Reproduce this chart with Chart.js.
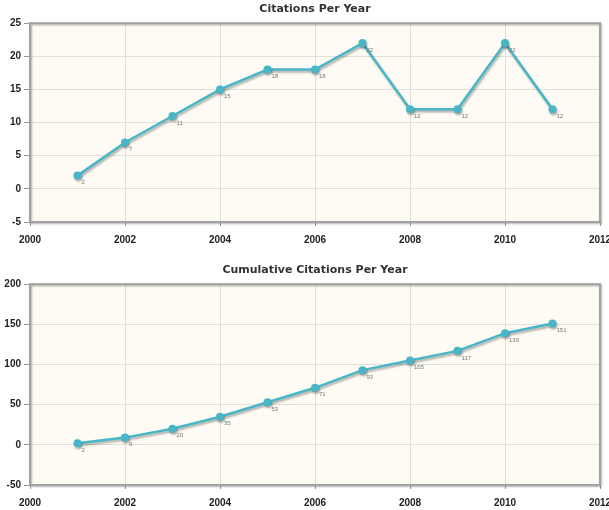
<!DOCTYPE html>
<html>
<head>
<meta charset="utf-8">
<script src="https://cdn.jsdelivr.net/npm/chart.js@4"></script>
<style>
  body{margin:0;background:#fff;overflow:hidden;}
  .box{position:absolute;left:0;width:609px;}
</style>
</head>
<body>
<div class="box" style="top:0;height:250px"><canvas id="perYear"></canvas></div>
<div class="box" style="top:255px;height:255px"><canvas id="cumulative"></canvas></div>
<script>
// chart data
const years = [2001, 2002, 2003, 2004, 2005, 2006, 2007, 2008, 2009, 2010, 2011];
const citations = [2, 7, 11, 15, 18, 18, 22, 12, 12, 22, 12];
const cumulative = [2, 9, 20, 35, 53, 71, 93, 105, 117, 139, 151];

// axis ranges
const xRange = [2000, 2012, 2];
const perYearRange = [-5, 25, 5];
const cumulativeRange = [-50, 200, 50];

const lineColor = '#48b6c7';
const tickFont = {family: 'Liberation Sans', size: 10, weight: 'bold'};

// cream plot background, grey framed border
const plotFrame = {
  id: 'plotFrame',
  beforeDraw(chart) {
    const a = chart.chartArea, ctx = chart.ctx;
    ctx.save();
    ctx.fillStyle = '#fdfbf3';
    ctx.fillRect(a.left, a.top, a.right - a.left, a.bottom - a.top);
    ctx.restore();
  },
  afterDraw(chart) {
    const a = chart.chartArea, ctx = chart.ctx;
    ctx.save();
    ctx.shadowColor = 'rgba(0,0,0,0.3)';
    ctx.shadowOffsetX = 1;
    ctx.shadowOffsetY = 1;
    ctx.shadowBlur = 2;
    ctx.strokeStyle = '#a2a2a2';
    ctx.lineWidth = 2;
    ctx.strokeRect(a.left, a.top, a.right - a.left, a.bottom - a.top);
    ctx.restore();
  }
};

// soft shadow under the line
const lineShadow = {
  id: 'lineShadow',
  beforeDatasetsDraw(chart) {
    const ctx = chart.ctx;
    ctx.save();
    ctx.shadowColor = 'rgba(0,0,0,0.3)';
    ctx.shadowOffsetX = 1;
    ctx.shadowOffsetY = 2;
    ctx.shadowBlur = 2;
  },
  afterDatasetsDraw(chart) {
    chart.ctx.restore();
  }
};

// small value labels next to each point
const valueLabels = {
  id: 'valueLabels',
  afterDatasetsDraw(chart) {
    const ctx = chart.ctx;
    const meta = chart.getDatasetMeta(0);
    const values = chart.data.datasets[0].data;
    ctx.save();
    ctx.font = '6px "Liberation Sans"';
    ctx.fillStyle = '#777';
    ctx.textAlign = 'left';
    ctx.textBaseline = 'top';
    meta.data.forEach(function(pt, i) {
      ctx.fillText(values[i].y, pt.x + 4, pt.y + 4);
    });
    ctx.restore();
  }
};

function makeChart(id, title, values, yRange, titlePad, xHeight) {
  const points = years.map(function(y, i) { return {x: y, y: values[i]}; });
  return new Chart(document.getElementById(id), {
    type: 'line',
    data: {
      datasets: [{
        data: points,
        borderColor: lineColor,
        backgroundColor: lineColor,
        borderWidth: 2.5,
        pointRadius: 4,
        pointBorderWidth: 0,
        tension: 0
      }]
    },
    options: {
      responsive: true,
      maintainAspectRatio: false,
      animation: false,
      layout: {padding: {left: 0, right: 9, top: 0, bottom: 0}},
      plugins: {
        legend: {display: false},
        tooltip: {enabled: false},
        title: {
          display: true,
          text: title,
          fullSize: false,
          color: '#333',
          font: {family: 'DejaVu Sans', size: 11, weight: 'bold'},
          padding: titlePad
        }
      },
      scales: {
        x: {
          type: 'linear',
          min: xRange[0],
          max: xRange[1],
          border: {display: false},
          grid: {color: '#e0e0da', tickLength: 4, tickColor: '#999'},
          ticks: {stepSize: xRange[2], color: '#222', font: tickFont, padding: 8,
                  callback: function(v) { return String(v); }},
          afterFit: function(s) { s.height = xHeight; s.paddingLeft = 0; s.paddingRight = 0; }
        },
        y: {
          min: yRange[0],
          max: yRange[1],
          border: {display: false},
          grid: {color: '#e0e0da', tickLength: 6, tickColor: '#999'},
          ticks: {stepSize: yRange[2], color: '#222', font: tickFont, padding: 3},
          afterFit: function(s) { s.width = 30; }
        }
      }
    },
    plugins: [plotFrame, lineShadow, valueLabels]
  });
}

makeChart('perYear', 'Citations Per Year', citations, perYearRange, {top: 3, bottom: 7}, 28);
makeChart('cumulative', 'Cumulative Citations Per Year', cumulative, cumulativeRange, {top: 9, bottom: 7}, 25);
</script>
</body>
</html>
